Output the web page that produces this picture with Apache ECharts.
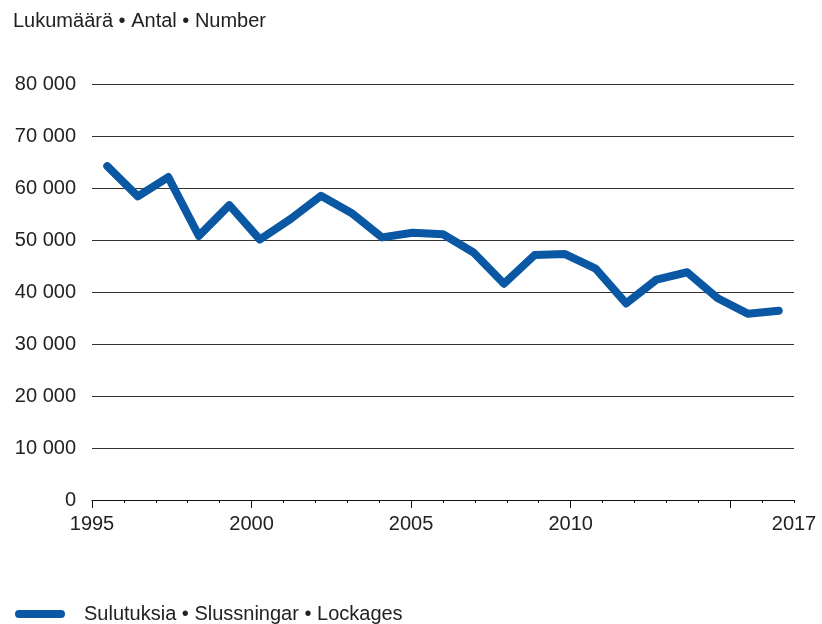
<!DOCTYPE html>
<html>
<head>
<meta charset="utf-8">
<script src="https://cdn.jsdelivr.net/npm/echarts@6/dist/echarts.min.js"></script>
<style>html,body{margin:0;padding:0;background:#fff}#c{width:822px;height:624px}</style>
</head>
<body>
<div id="c"></div>
<script>
var years = [1995,1996,1997,1998,1999,2000,2001,2002,2003,2004,2005,2006,2007,2008,2009,2010,2011,2012,2013,2014,2015,2016,2017];
var lockages = [64200,58400,62100,50800,56700,50100,54000,58500,55200,50500,51400,51100,47600,41600,47100,47300,44500,37800,42400,43800,38800,35800,36400];
var allTicks = years;
var majorTicks = [1995,2000,2005,2010,2015];
var xLabels = [1995,2000,2005,2010,2017];
var yMin = 0, yMax = 80000, yStep = 10000;
var titleText = 'Lukumäärä \u2022 Antal \u2022 Number';
var seriesName = 'Sulutuksia \u2022 Slussningar \u2022 Lockages';

var font = 'Liberation Sans, Arial, sans-serif';
var txt = '#222222';
var blue = '#0a58a4';

var chart = echarts.init(document.getElementById('c'), null, {renderer: 'canvas'});
chart.setOption({
  animation: false,
  title: {
    text: titleText, left: 8, top: 6,
    textStyle: {fontFamily: font, fontSize: 20, fontWeight: 'normal', color: txt}
  },
  legend: {
    left: 10, top: 599,
    itemWidth: 50, itemHeight: 8,
    icon: 'path://M4,0 H46 A4,4 0 0 1 46,8 H4 A4,4 0 0 1 4,0 Z',
    textStyle: {fontFamily: font, fontSize: 20, color: txt, padding: [0,0,0,14]},
    data: [{name: seriesName, itemStyle: {color: blue}}]
  },
  grid: {left: 92, right: 28, top: 84, bottom: 124, containLabel: false},
  xAxis: [
    {type: 'category', data: years, boundaryGap: true, show: false},
    {type: 'value', min: 1995, max: 2017, position: 'bottom',
     axisLine: {show: true, lineStyle: {color: '#111', width: 1}},
     axisTick: {show: true, customValues: allTicks, length: 3, lineStyle: {color: '#111', width: 1}},
     axisLabel: {customValues: xLabels, fontFamily: font, fontSize: 20, color: txt, margin: 14,
       formatter: function (v) { return String(v); }},
     splitLine: {show: false}},
    {type: 'value', min: 1995, max: 2017, position: 'bottom',
     axisLine: {show: false},
     axisTick: {show: true, customValues: majorTicks, length: 8, lineStyle: {color: '#111', width: 1}},
     axisLabel: {show: false},
     splitLine: {show: false}}
  ],
  yAxis: {
    type: 'value', min: yMin, max: yMax, interval: yStep,
    axisLine: {show: false}, axisTick: {show: false},
    axisLabel: {fontFamily: font, fontSize: 20, color: txt, margin: 16,
      formatter: function (v) { return String(v).replace(/\B(?=(\d{3})+(?!\d))/g, ' '); }},
    splitLine: {lineStyle: {color: '#333', width: 1}}
  },
  series: [{
    name: seriesName, type: 'line', xAxisIndex: 0, data: lockages,
    symbol: 'none', smooth: false,
    lineStyle: {color: blue, width: 8, cap: 'round', join: 'round'},
    itemStyle: {color: blue}
  }]
});
</script>
</body>
</html>
